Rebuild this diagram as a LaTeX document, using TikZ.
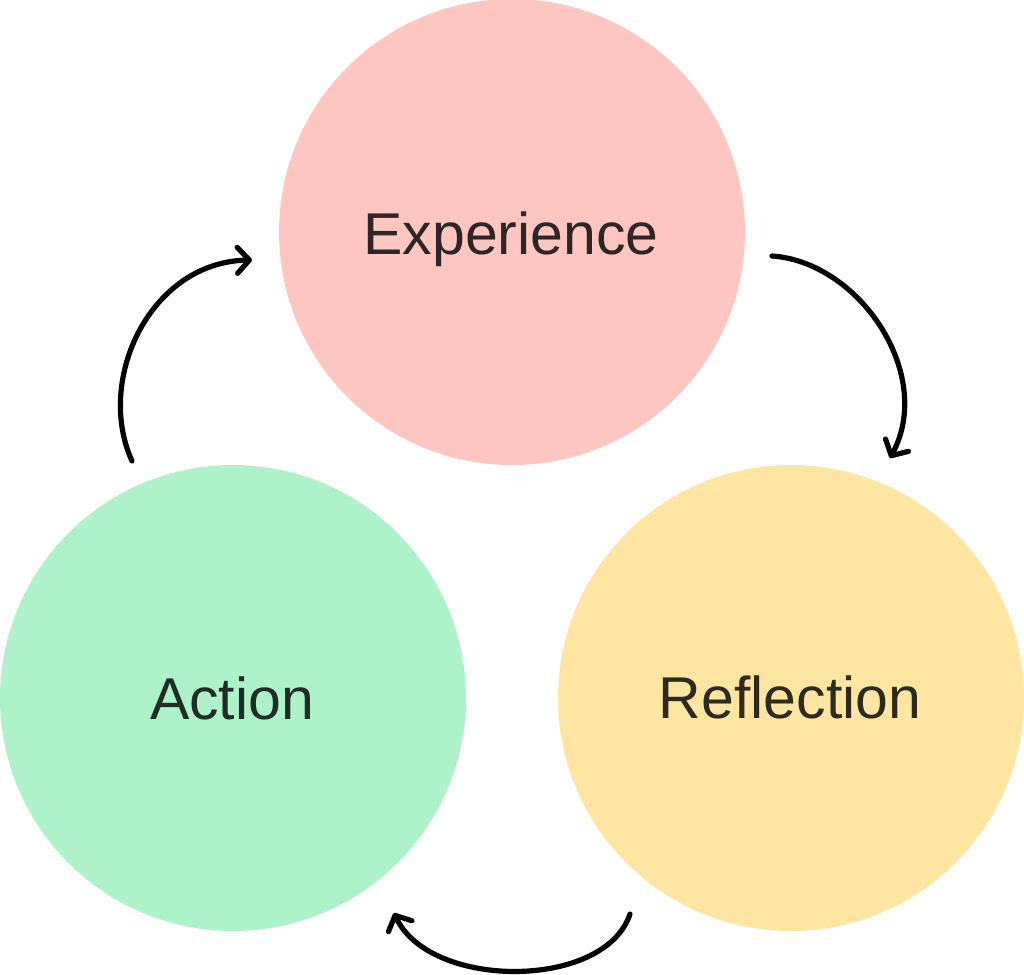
\documentclass[tikz,border=0pt]{standalone}
\usepackage{fontspec}
\setmainfont{Liberation Sans}
\usetikzlibrary{arrows.meta}
\definecolor{expfill}{HTML}{FEC6C1}
\definecolor{actfill}{HTML}{AEF2C9}
\definecolor{reffill}{HTML}{FEE6A2}
\definecolor{exptext}{HTML}{2E2626}
\definecolor{acttext}{HTML}{1F2E25}
\definecolor{reftext}{HTML}{2E2A1F}
\tikzset{
  bubble/.style={circle, minimum size=466pt, inner sep=0pt},
  lbl/.style={anchor=base, font=\fontsize{59}{70}\selectfont},
  cyc/.style={line width=5.2pt, line cap=round, black,
    -{Straight Barb[length=12pt,width=26pt,line width=5.2pt,round]}}
}
\begin{document}
\begin{tikzpicture}[x=1pt,y=-1pt]
\useasboundingbox (0,0) rectangle (1024,974);
\node[bubble, fill=expfill] (exp) at (512,232) {};
\node[bubble, fill=actfill] (act) at (233,698) {};
\node[bubble, fill=reffill] (ref) at (791,698) {};
\node[lbl, text=exptext] (expl) at (511,254) {Experience};
\node[lbl, text=acttext] (actl) at (232,719) {Action};
\node[lbl, text=reftext] (refl) at (790,718) {Reflection};
\coordinate (a1) at (132,461);
\coordinate (a2) at (252,260);
\coordinate (b1) at (772,256);
\coordinate (b2) at (890,458);
\coordinate (c1) at (630,914);
\coordinate (c2) at (394,913);
\draw[cyc] (a1) .. controls (95,380) and (150,262) .. (a2);
\draw[cyc] (b1) .. controls (860,262) and (935,375) .. (b2);
\draw[cyc] (c1) .. controls (605,990) and (430,990) .. (c2);
\end{tikzpicture}
\end{document}
